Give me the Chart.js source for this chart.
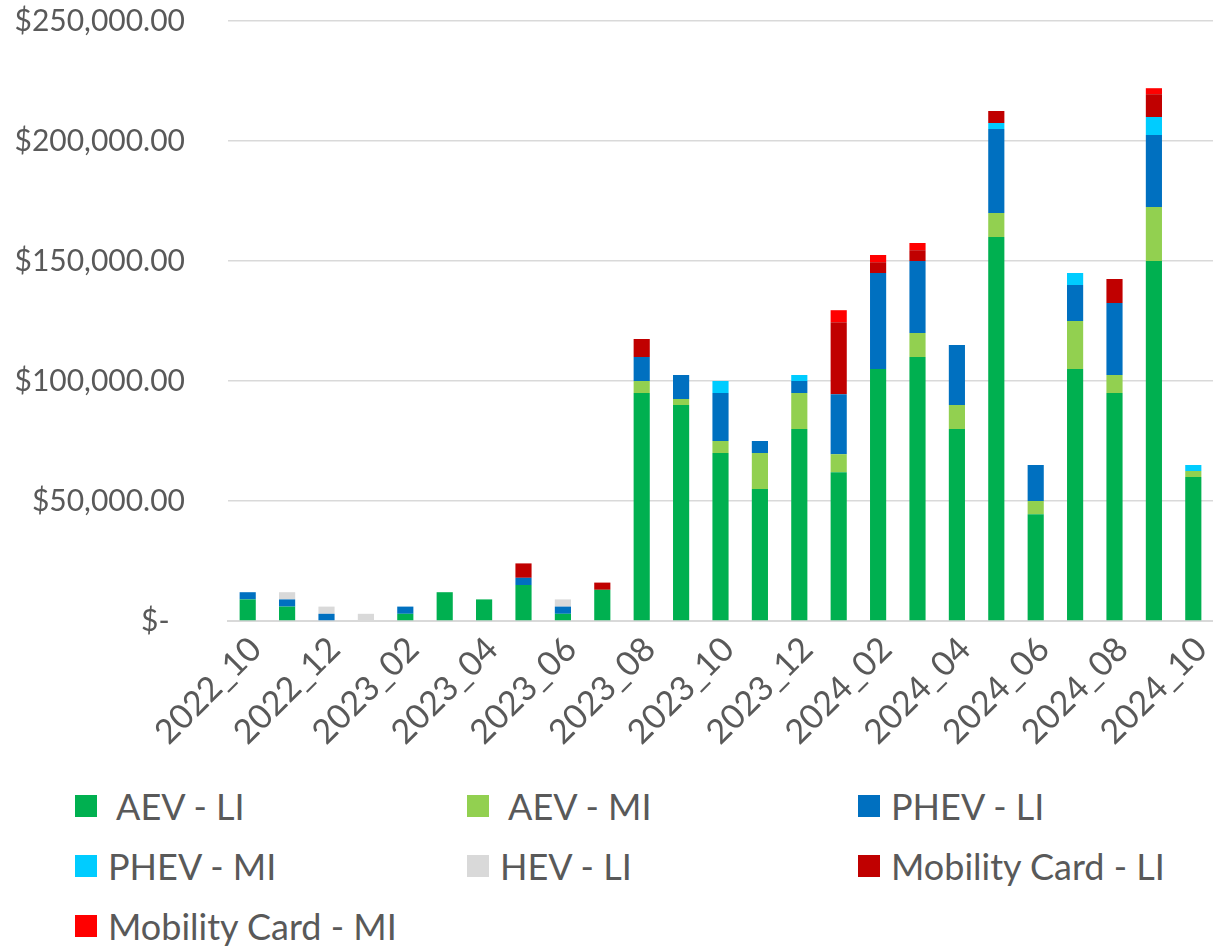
<!DOCTYPE html>
<html>
<head>
<meta charset="utf-8">
<script src="https://cdn.jsdelivr.net/npm/chart.js@4"></script>
<style>
  body { margin: 0; background: #fff; font-family: Lato, sans-serif; }
  #wrap { position: relative; width: 1213px; height: 946px; }
  #chartBox { position: absolute; left: 0; top: 0; width: 1213px; height: 760px; }
  #legend { position: absolute; left: 0; top: 776px; width: 1213px; }
  .item { position: absolute; height: 60px; display: flex; align-items: center; color: #595959; font-size: 36px; white-space: pre; }
  .box { width: 22px; height: 22px; margin-right: 11px; flex: none; }
</style>
</head>
<body>
<div id="wrap">
  <div id="chartBox"><canvas id="chart"></canvas></div>
  <div id="legend"></div>
</div>
<script>
// months on the x axis
const months = [
  '2022_10', '2022_11', '2022_12',
  '2023_01', '2023_02', '2023_03', '2023_04', '2023_05', '2023_06',
  '2023_07', '2023_08', '2023_09', '2023_10', '2023_11', '2023_12',
  '2024_01', '2024_02', '2024_03', '2024_04', '2024_05', '2024_06',
  '2024_07', '2024_08', '2024_09', '2024_10'
];

// values (USD)
const aevLI  = [9000, 6000, 0, 0, 3000, 12000, 9000, 15000, 3000, 13000, 95000, 90000, 70000, 55000, 80000, 62000, 105000, 110000, 80000, 160000, 44500, 105000, 95000, 150000, 60000];
const aevMI  = [0, 0, 0, 0, 0, 0, 0, 0, 0, 0, 5000, 2500, 5000, 15000, 15000, 7500, 0, 10000, 10000, 10000, 5500, 20000, 7500, 22500, 2500];
const phevLI = [3000, 3000, 3000, 0, 3000, 0, 0, 3000, 3000, 0, 10000, 10000, 20000, 5000, 5000, 25000, 40000, 30000, 25000, 35000, 15000, 15000, 30000, 30000, 0];
const phevMI = [0, 0, 0, 0, 0, 0, 0, 0, 0, 0, 0, 0, 5000, 0, 2500, 0, 0, 0, 0, 2500, 0, 5000, 0, 7500, 2500];
const hevLI  = [0, 3000, 3000, 3000, 0, 0, 0, 0, 3000, 0, 0, 0, 0, 0, 0, 0, 0, 0, 0, 0, 0, 0, 0, 0, 0];
const mcLI   = [0, 0, 0, 0, 0, 0, 0, 6000, 0, 3000, 7500, 0, 0, 0, 0, 30000, 4500, 4500, 0, 5000, 0, 0, 10000, 9500, 0];
const mcMI   = [0, 0, 0, 0, 0, 0, 0, 0, 0, 0, 0, 0, 0, 0, 0, 5000, 3000, 3000, 0, 0, 0, 0, 0, 2500, 0];

const seriesNames = [' AEV - LI', ' AEV - MI', 'PHEV - LI', 'PHEV - MI', 'HEV - LI', 'Mobility Card - LI', 'Mobility Card - MI'];
const seriesData = [aevLI, aevMI, phevLI, phevMI, hevLI, mcLI, mcMI];
const seriesColours = ['#00B050', '#92D050', '#0070C0', '#00CCFF', '#D9D9D9', '#C00000', '#FF0000'];

const textColour = '#595959';
const gridColour = '#D9D9D9';

const datasets = seriesNames.map((name, i) => ({
  label: name,
  data: seriesData[i],
  backgroundColor: seriesColours[i],
  borderWidth: 0,
  categoryPercentage: 1,
  barPercentage: 0.41
}));

function money(v) {
  if (v === 0) return '$-  ';
  return '$' + v.toLocaleString('en-US', { minimumFractionDigits: 2, maximumFractionDigits: 2 });
}

new Chart(document.getElementById('chart').getContext('2d'), {
  type: 'bar',
  data: { labels: months, datasets: datasets },
  options: {
    responsive: true,
    maintainAspectRatio: false,
    animation: false,
    layout: { padding: { top: 21, right: 0, bottom: 0, left: 0 } },
    plugins: {
      legend: { display: false },
      tooltip: { enabled: false }
    },
    scales: {
      x: {
        stacked: true,
        grid: { display: false, drawTicks: false },
        border: { color: gridColour, width: 2 },
        ticks: {
          autoSkip: false,
          maxRotation: 45,
          minRotation: 45,
          padding: 8,
          labelOffset: 8,
          color: textColour,
          font: { family: 'Lato', size: 34 },
          callback: (v, i) => (i % 2 === 0 ? months[i] : '')
        },
        afterFit: s => {
          s.height = 760 - 621;
          s.paddingLeft = 0;
          s.paddingRight = 0;
        }
      },
      y: {
        stacked: true,
        min: 0,
        max: 250000,
        grid: { color: gridColour, lineWidth: 1.5, drawTicks: false },
        border: { display: false },
        ticks: {
          stepSize: 50000,
          padding: 43,
          color: textColour,
          font: { family: 'Lato', size: 30 },
          callback: v => money(v)
        },
        afterFit: s => {
          s.width = 228;
          s.paddingTop = 0;
          s.paddingBottom = 0;
        }
      }
    }
  }
});

// legend in three columns, as in the original
const legend = document.getElementById('legend');
const colX = [75, 467, 858];
seriesNames.forEach((name, i) => {
  const el = document.createElement('div');
  el.className = 'item';
  el.style.left = colX[i % 3] + 'px';
  el.style.top = (Math.floor(i / 3) * 60) + 'px';
  const box = document.createElement('span');
  box.className = 'box';
  box.style.background = seriesColours[i];
  const txt = document.createElement('span');
  txt.textContent = name;
  el.appendChild(box);
  el.appendChild(txt);
  legend.appendChild(el);
});
</script>
</body>
</html>
